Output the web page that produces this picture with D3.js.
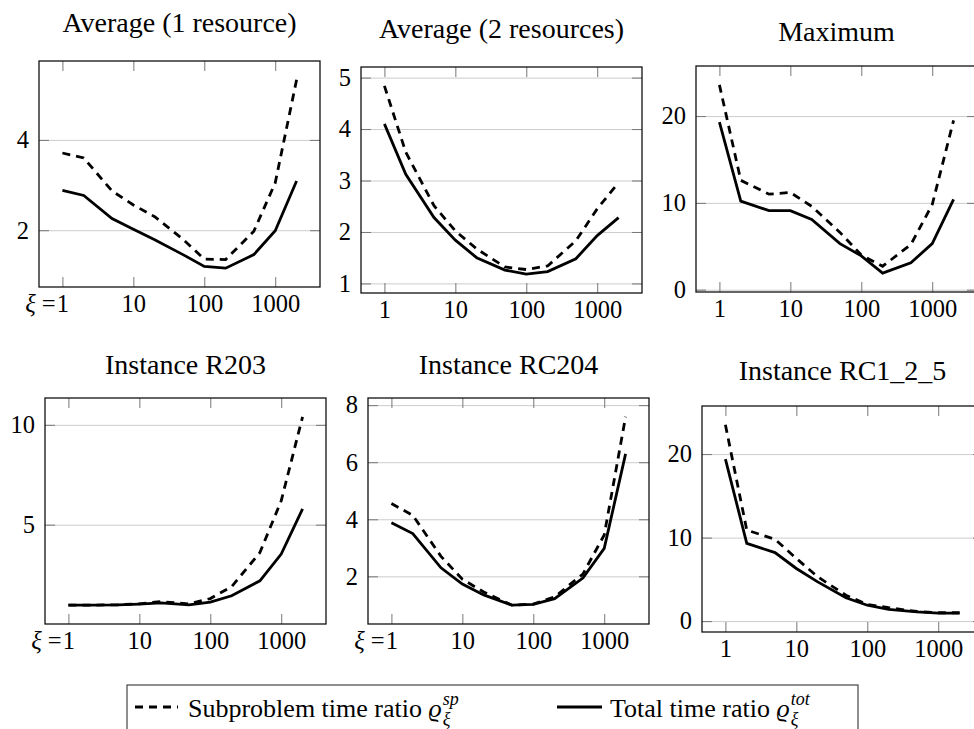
<!DOCTYPE html>
<html>
<head>
<meta charset="utf-8">
<script src="https://cdn.jsdelivr.net/npm/d3@7"></script>
<style>
  body { margin: 0; background: #fff; }
  svg { display: block; }
  svg text { font-family: "Liberation Serif", "DejaVu Serif", "Times New Roman", serif !important; }
</style>
</head>
<body>
<div id="chart"></div>
<script>
const width = 974;
const height = 729;
const font = "Liberation Serif, DejaVu Serif, serif";

// xi values on the (log) x axis
const xi = [1, 2, 5, 10, 20, 50, 100, 200, 500, 1000, 2000];
const xTicks = [1, 10, 100, 1000];

const titles = [
  "Average (1 resource)",
  "Average (2 resources)",
  "Maximum",
  "Instance R203",
  "Instance RC204",
  "Instance RC1_2_5"
];

// subproblem time ratio (dashed) / total time ratio (solid)
const spAvg1 = [3.71, 3.6, 2.87, 2.56, 2.3, 1.8, 1.36, 1.35, 1.98, 3.05, 5.33];
const totAvg1 = [2.88, 2.77, 2.26, 2.02, 1.79, 1.46, 1.2, 1.16, 1.46, 1.99, 3.09];

const spAvg2 = [4.84, 3.55, 2.51, 2.02, 1.67, 1.32, 1.27, 1.34, 1.83, 2.45, 2.96];
const totAvg2 = [4.1, 3.12, 2.28, 1.84, 1.5, 1.26, 1.18, 1.23, 1.48, 1.93, 2.28];

const spMax = [23.6, 12.6, 11.0, 11.2, 9.6, 6.6, 4.0, 2.7, 5.2, 9.8, 19.5];
const totMax = [19.3, 10.2, 9.1, 9.1, 8.1, 5.3, 3.9, 1.9, 3.1, 5.3, 10.4];

const spR203 = [0.97, 0.97, 0.99, 1.04, 1.15, 1.03, 1.3, 1.9, 3.6, 6.2, 10.4];
const totR203 = [0.97, 0.97, 0.98, 1.02, 1.08, 0.98, 1.12, 1.44, 2.19, 3.53, 5.79];

const spRC204 = [4.55, 4.14, 2.7, 1.9, 1.45, 0.99, 1.03, 1.28, 2.08, 3.45, 7.59];
const totRC204 = [3.88, 3.5, 2.3, 1.73, 1.35, 0.99, 1.02, 1.22, 1.94, 2.98, 6.29];

const spRC125 = [23.5, 10.9, 9.8, 7.5, 5.3, 3.1, 2.0, 1.6, 1.15, 1.0, 1.0];
const totRC125 = [19.4, 9.3, 8.2, 6.3, 4.7, 2.8, 1.9, 1.4, 1.1, 0.95, 0.95];

const yTicksAvg1 = [2, 4];
const yTicksAvg2 = [1, 2, 3, 4, 5];
const yTicksMax = [0, 10, 20];
const yTicksR203 = [5, 10];
const yTicksRC204 = [2, 4, 6, 8];
const yTicksRC125 = [0, 10, 20];

const legendLabels = ["Subproblem time ratio ", "Total time ratio "];
const legendSup = ["sp", "tot"];

// layout of the six axis boxes
const boxW = 281;
const boxH = 226;
const layout = [
  { left: 39, top: 61, titleY: 32 },
  { left: 361, top: 67, titleY: 38 },
  { left: 696, top: 66, titleY: 41 },
  { left: 45, top: 398, titleY: 374 },
  { left: 368, top: 398, titleY: 374 },
  { left: 702, top: 406, titleY: 380 }
];

const panels = [
  { sp: spAvg1, tot: totAvg1, yTicks: yTicksAvg1, xiLabel: true },
  { sp: spAvg2, tot: totAvg2, yTicks: yTicksAvg2, xiLabel: false },
  { sp: spMax, tot: totMax, yTicks: yTicksMax, xiLabel: false },
  { sp: spR203, tot: totR203, yTicks: yTicksR203, xiLabel: true },
  { sp: spRC204, tot: totRC204, yTicks: yTicksRC204, xiLabel: true },
  { sp: spRC125, tot: totRC125, yTicks: yTicksRC125, xiLabel: false }
];

const svg = d3
  .select("#chart")
  .append("svg")
  .attr("width", width)
  .attr("height", height)
  .attr("viewBox", [0, 0, width, height])
  .attr("font-family", font);

function styleAxis(a, color) {
  a.attr("font-family", font);
  a.select(".domain").remove();
  a.selectAll(".tick line").attr("stroke", color).attr("stroke-width", 1);
  a.selectAll(".tick text")
    .attr("font-size", 24.5)
    .attr("fill", "#000");
}

panels.forEach((p, i) => {
  const L = layout[i];
  const g = svg.append("g").attr("transform", `translate(${L.left},${L.top})`);

  // pgfplots style: enlarge limits by 10% on each side
  const lx0 = Math.log10(d3.min(xi));
  const lx1 = Math.log10(d3.max(xi));
  const px = 0.1 * (lx1 - lx0);
  const x = d3
    .scaleLog()
    .domain([10 ** (lx0 - px), 10 ** (lx1 + px)])
    .range([0, boxW]);

  const [lo, hi] = d3.extent(p.sp.concat(p.tot));
  const py = 0.1 * (hi - lo);
  const y = d3
    .scaleLinear()
    .domain([lo - py, hi + py])
    .range([boxH, 0]);

  // horizontal grid
  g.append("g")
    .call(d3.axisLeft(y).tickValues(p.yTicks).tickSize(-boxW).tickFormat(""))
    .call((a) => styleAxis(a, "#cccccc"));

  // data
  const line = d3
    .line()
    .x((d, j) => x(xi[j]))
    .y((d) => y(d));

  g.append("path")
    .datum(p.sp)
    .attr("fill", "none")
    .attr("stroke", "#000")
    .attr("stroke-width", 2.8)
    .attr("stroke-dasharray", "8,6")
    .attr("d", line);

  g.append("path")
    .datum(p.tot)
    .attr("fill", "none")
    .attr("stroke", "#000")
    .attr("stroke-width", 2.8)
    .attr("d", line);

  // ticks inside the box on all four sides
  const gx = g
    .append("g")
    .attr("transform", `translate(0,${boxH})`)
    .call(
      d3.axisBottom(x).tickValues(xTicks).tickSize(-10).tickPadding(8).tickFormat(d3.format("d"))
    )
    .call((a) => styleAxis(a, "#777"));

  if (p.xiLabel) {
    gx.selectAll(".tick text")
      .filter((d) => d === 1)
      .text(null)
      .attr("text-anchor", "end")
      .attr("x", 6)
      .call((t) => {
        t.append("tspan").attr("font-style", "italic").text("ξ");
        t.append("tspan").attr("dx", 6).text("=");
        t.append("tspan").attr("dx", 1).text("1");
      });
  }

  g.append("g")
    .call(d3.axisTop(x).tickValues(xTicks).tickSize(-10).tickFormat(""))
    .call((a) => styleAxis(a, "#777"));

  g.append("g")
    .call(
      d3.axisLeft(y).tickValues(p.yTicks).tickSize(-10).tickPadding(10).tickFormat(d3.format("~g"))
    )
    .call((a) => styleAxis(a, "#777"));

  g.append("g")
    .attr("transform", `translate(${boxW},0)`)
    .call(d3.axisRight(y).tickValues(p.yTicks).tickSize(-10).tickFormat(""))
    .call((a) => styleAxis(a, "#777"));

  // box
  g.append("rect")
    .attr("width", boxW)
    .attr("height", boxH)
    .attr("fill", "none")
    .attr("stroke", "#111")
    .attr("stroke-width", 1.3);

  // title
  g.append("text")
    .attr("x", boxW / 2)
    .attr("y", L.titleY - L.top)
    .attr("text-anchor", "middle")
    .attr("font-size", 28)
    .text(titles[i]);
});

// legend
const legend = svg.append("g");
legend
  .append("rect")
  .attr("x", 127)
  .attr("y", 685)
  .attr("width", 731)
  .attr("height", 70)
  .attr("fill", "#fff")
  .attr("stroke", "#444")
  .attr("stroke-width", 1.2);

const legendItems = [
  { x0: 135, x1: 178, tx: 188, dash: "8,6" },
  { x0: 557, x1: 602, tx: 610, dash: null }
];

legendItems.forEach((it, k) => {
  legend
    .append("line")
    .attr("x1", it.x0)
    .attr("x2", it.x1)
    .attr("y1", 707)
    .attr("y2", 707)
    .attr("stroke", "#000")
    .attr("stroke-width", 2.8)
    .attr("stroke-dasharray", it.dash);

  const t = legend
    .append("text")
    .attr("x", it.tx)
    .attr("y", 717)
    .attr("font-size", 26);
  t.append("tspan").text(legendLabels[k]);
  t.append("tspan").attr("font-style", "italic").text("ϱ");

  const xEnd = it.tx + t.node().getComputedTextLength() + 1;
  legend
    .append("text")
    .attr("x", xEnd)
    .attr("y", 705)
    .attr("font-size", 18)
    .attr("font-style", "italic")
    .text(legendSup[k]);
  legend
    .append("text")
    .attr("x", xEnd)
    .attr("y", 725)
    .attr("font-size", 18)
    .attr("font-style", "italic")
    .text("ξ");
});
</script>
</body>
</html>
